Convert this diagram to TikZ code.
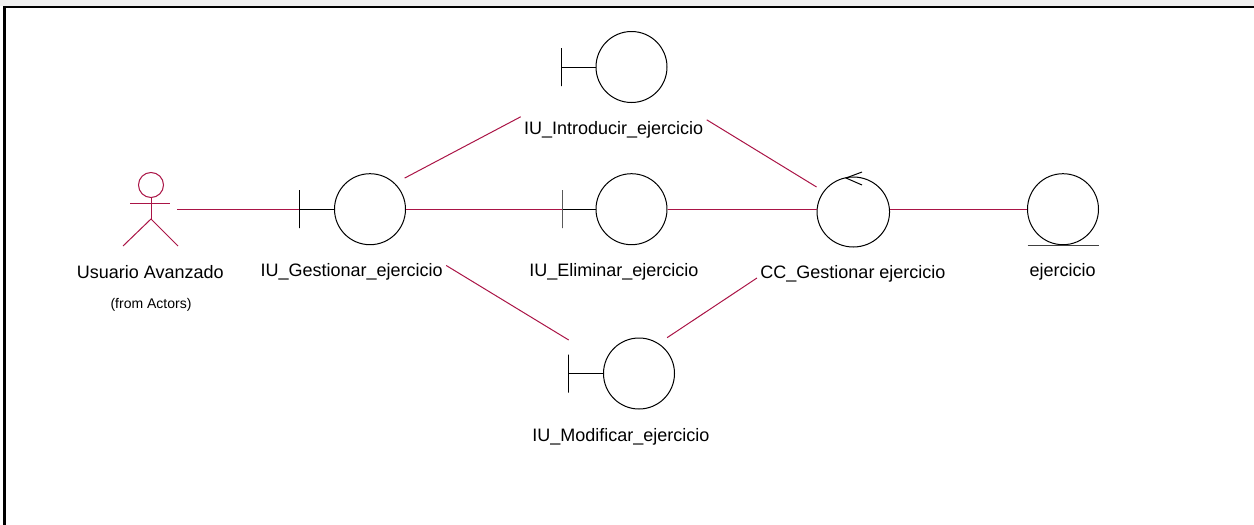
\documentclass[tikz,border=0pt]{standalone}
\usepackage{fontspec}
\setmainfont{Liberation Sans}
\usetikzlibrary{shapes.geometric}
\definecolor{carmin}{RGB}{170,20,70}
\definecolor{franja}{RGB}{240,240,240}
\tikzset{
  icono/.style={draw,circle,minimum size=71pt,inner sep=0pt},
  barra/.style={draw,rectangle,minimum width=0pt,minimum height=38pt,inner sep=0pt},
  rotulo/.style={anchor=base,inner xsep=3pt,inner ysep=0pt,text height=17pt,text depth=4pt,font=\fontsize{18}{20}\selectfont},
  enlace/.style={draw=carmin}
}
\begin{document}
\begin{tikzpicture}[x=1pt,y=-1pt,line width=1pt]
\useasboundingbox (0,0) rectangle (1254,525);
\fill[franja] (0,0) rectangle (1254,6);
\draw[line width=2.4pt] (4.3,525) -- (4.3,6.8) -- (1254,6.8);
\node[draw=carmin,circle,minimum size=25pt,inner sep=0pt] (actor) at (151,185) {};
\coordinate (actorpie) at (151,219);
\coordinate (actormano) at (177,209.2);
\draw[enlace] (actor.south) -- (actorpie);
\draw[enlace] (130,203) -- (170,203);
\draw[enlace] (123,246) -- (actorpie) -- (178,246);
\node[barra] (gestbar) at (299.5,209.2) {};
\node[icono] (gest) at (370,209.2) {};
\node[barra] (introbar) at (561.5,67) {};
\node[icono] (intro) at (631.5,67) {};
\node[barra] (elimbar) at (562,209.2) {};
\node[icono] (elim) at (631.5,209.2) {};
\node[barra] (modifbar) at (568.7,373.5) {};
\node[icono] (modif) at (639,373.5) {};
\node[draw,ellipse,minimum width=72.5pt,minimum height=70pt,inner sep=0pt] (ctrl) at (853.3,212) {};
\node[icono] (ent) at (1063,209.2) {};
\draw (gestbar) -- (gest);
\draw (introbar) -- (intro);
\draw (elimbar) -- (elim);
\draw (modifbar) -- (modif);
\draw (862,172) -- (846,178) -- (862,185);
\draw[black!75] ([xshift=-35.5pt]ent.south) -- ([xshift=35.5pt]ent.south);
\node[rotulo] (lblactor) at (150.3,278) {Usuario Avanzado};
\node[anchor=base,font=\fontsize{14}{16}\selectfont] (lblfrom) at (151,308) {(from Actors)};
\node[rotulo] (lblgest) at (351.7,276) {IU\_Gestionar\_ejercicio};
\node[rotulo] (lblintro) at (613.7,134.3) {IU\_Introducir\_ejercicio};
\node[rotulo] (lblelim) at (613.8,276) {IU\_Eliminar\_ejercicio};
\node[rotulo] (lblmodif) at (620.8,441) {IU\_Modificar\_ejercicio};
\node[rotulo] (lblctrl) at (853,278) {CC\_Gestionar ejercicio};
\node[rotulo] (lblent) at (1062.7,276) {ejercicio};
\draw[enlace] (actormano) -- (gestbar);
\draw[enlace] (gest) -- (elimbar);
\draw[enlace] (elim) -- ([yshift=2.8pt]ctrl.west);
\draw[enlace] ([yshift=2.8pt]ctrl.east) -- (ent);
\draw[enlace] ([xshift=7.5pt,yshift=7.5pt]gest.41) -- (lblintro.north west);
\draw[enlace] ([yshift=-3pt]lblintro.north east) -- ([yshift=25pt]ctrl.west);
\draw[enlace] ([yshift=4pt]lblgest.east) -- ([yshift=14pt]modifbar.north);
\draw[enlace] ([xshift=6pt,yshift=7.5pt]modif.52) -- (lblctrl.base west);
\end{tikzpicture}
\end{document}
